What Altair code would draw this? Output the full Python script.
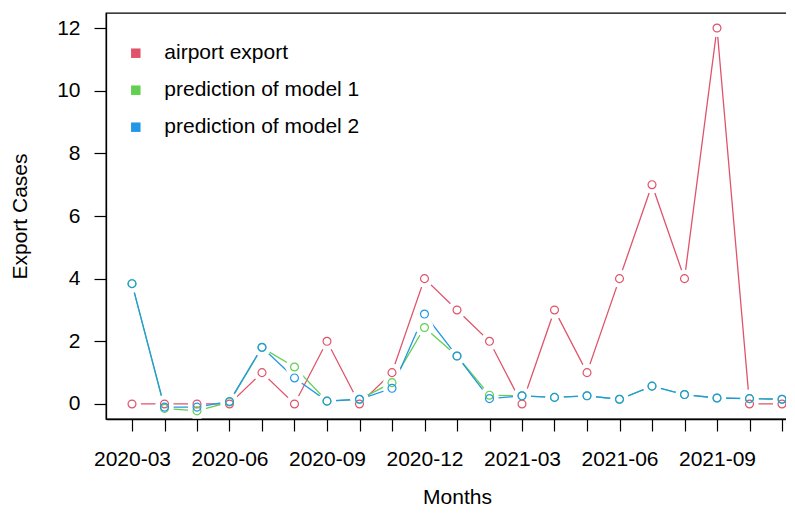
import altair as alt
import pandas as pd

months = ["2020-03", "2020-04", "2020-05", "2020-06", "2020-07", "2020-08", "2020-09",
          "2020-10", "2020-11", "2020-12", "2021-01", "2021-02", "2021-03", "2021-04",
          "2021-05", "2021-06", "2021-07", "2021-08", "2021-09", "2021-10", "2021-11"]
airport_export = [0, 0, 0, 0, 1, 0, 2, 0, 1, 4, 3, 2, 0, 3, 1, 4, 7, 4, 12, 0, 0]
model1 = [3.84, -0.14, -0.22, 0.06, 1.80, 1.18, 0.09, 0.15, 0.68, 2.44, 1.53,
          0.28, 0.26, 0.21, 0.26, 0.15, 0.57, 0.30, 0.19, 0.17, 0.15]
model2 = [3.84, -0.10, -0.10, 0.08, 1.81, 0.83, 0.09, 0.15, 0.50, 2.87, 1.53,
          0.17, 0.26, 0.21, 0.26, 0.15, 0.57, 0.30, 0.19, 0.17, 0.15]
series_names = ["airport export", "prediction of model 1", "prediction of model 2"]
series_colors = ["#DF536B", "#61D04F", "#2297E6"]

rows = []
for k, (name, vals) in enumerate(zip(series_names, [airport_export, model1, model2])):
    for i, (m, v) in enumerate(zip(months, vals)):
        rows.append({"series": name, "k": k, "idx": i, "month": m, "cases": v})
df = pd.DataFrame(rows)

label_js = "[" + ",".join("'" + m + "'" for m in months) + "]"
label_expr = "datum.value % 3 == 0 ? " + label_js + "[datum.value] : ''"

FONT = "Liberation Sans"
xscale = alt.Scale(domain=[-0.8, 20.8], nice=False, zero=False)
yscale = alt.Scale(domain=[-0.48, 12.48], nice=False, zero=False)
stroke_scale = alt.Scale(domain=series_names, range=series_colors)
# legend colours: same order (names sort alphabetically in series order)
fill_scale = alt.Scale(range=series_colors)

x_bottom = alt.Axis(
    values=list(range(len(months))), labelExpr=label_expr,
    tickSize=12, tickWidth=1.2, tickColor="black", domainColor="black", domainWidth=1.3,
    labelFont=FONT, labelFontSize=21, labelColor="black", labelPadding=34,
    labelBaseline="alphabetic", labelAngle=0, labelOverlap=False, labelFlush=False,
    labelBound=False, labelSeparation=0,
    title="Months", titleFont=FONT, titleFontSize=21, titleFontWeight="normal",
    titleColor="black", titleX=351, titleY=84, titleBaseline="alphabetic",
    grid=False, zindex=1,
)
y_left = alt.Axis(
    values=[0, 2, 4, 6, 8, 10, 12], tickSize=12, tickWidth=1.2, tickColor="black",
    domainColor="black", domainWidth=1.3, labelFont=FONT, labelFontSize=21,
    labelColor="black", labelPadding=14, grid=False,
    title="Export Cases", titleFont=FONT, titleFontSize=21, titleFontWeight="normal",
    titleColor="black", titleX=-80, titleY=203, titleAngle=270,
    titleBaseline="alphabetic", titleAlign="center", zindex=1,
)

X = alt.X("idx:Q", scale=xscale, axis=x_bottom)
Y = alt.Y("cases:Q", scale=yscale, axis=y_left)

base = alt.Chart(df)

lines = base.mark_line(strokeWidth=1.3).encode(
    x=X, y=Y,
    stroke=alt.Stroke("series:N", scale=stroke_scale, legend=None),
    detail="series:N",
    order="idx:Q",
)

masks = base.mark_point(filled=True, shape="circle", size=330, opacity=1,
                        strokeWidth=0).encode(
    x=X, y=Y,
    color=alt.value("white"),
)

circles = base.mark_point(filled=False, shape="circle", size=62, strokeWidth=1.2,
                          opacity=1).encode(
    x=X, y=Y,
    stroke=alt.Stroke("series:N", scale=stroke_scale, legend=None),
    order="k:Q",
)

legend_layer = base.mark_point(filled=True, shape="square", size=10, opacity=0).encode(
    x=X, y=Y,
    fill=alt.Fill(
        "series:N", scale=fill_scale,
        legend=alt.Legend(
            orient="none", legendX=19.3, legendY=29.7, title=None,
            symbolType="square", symbolSize=90, symbolOpacity=1, symbolStrokeWidth=0,
            labelFont=FONT, labelFontSize=21, labelColor="black", labelOffset=18,
            rowPadding=15, padding=0, labelLimit=500,
        ),
    ),
)

chart = alt.layer(lines, masks, circles, legend_layer).properties(
    width=702, height=406,
    autosize=alt.AutoSizeParams(type="none"),
    padding={"left": 98, "top": 5, "right": -22, "bottom": 91},
    background="white",
).configure_view(stroke="black", strokeWidth=1.3)

chart.save("out.html", embed_options={"renderer": "svg", "actions": False})
